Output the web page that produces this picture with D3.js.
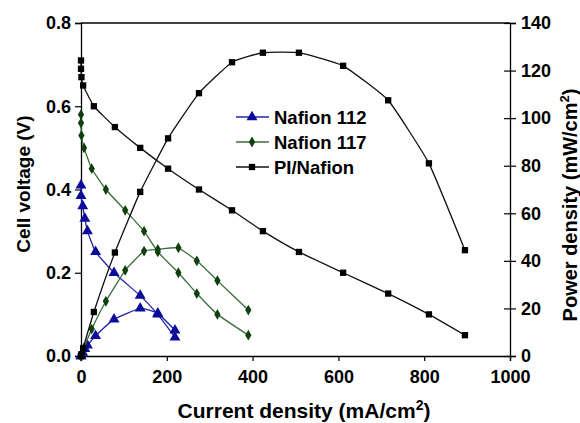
<!DOCTYPE html>
<html>
<head>
<meta charset="utf-8">
<script src="https://cdn.jsdelivr.net/npm/d3@7"></script>
<style>
  body { margin: 0; background: #fff; }
  text { font-family: "Liberation Sans", Arial, sans-serif; font-weight: bold; }
</style>
</head>
<body>
<svg id="chart" width="580" height="423"></svg>
<script>
// current density (mA/cm2), cell voltage (V), power density (mW/cm2)
var n112I = [0, 0, 4, 9, 15, 34, 77, 138, 179, 219];
var n112V = [0.41, 0.385, 0.36, 0.33, 0.30, 0.25, 0.20, 0.145, 0.10, 0.045];
var n112P = [0, 0, 1.4, 3, 4.5, 8.5, 15.4, 20, 17.9, 10.8];

var n117I = [0, 0, 1, 7, 25, 58, 103, 147, 179, 227, 270, 318, 390];
var n117V = [0.58, 0.56, 0.53, 0.50, 0.45, 0.40, 0.35, 0.30, 0.25, 0.20, 0.15, 0.10, 0.05];
var n117P = [0, 0, 0.5, 3.5, 11.3, 23, 36, 44.1, 44.8, 45.5, 40, 31.7, 19.3];

var piI = [0, 0, 1, 5, 30, 79, 138, 203, 275, 352, 424, 508, 611, 716, 811, 895];
var piV = [0.71, 0.69, 0.67, 0.65, 0.60, 0.55, 0.50, 0.45, 0.40, 0.35, 0.30, 0.25, 0.20, 0.15, 0.10, 0.05];
var piP = [0, 0, 0.7, 3.3, 18.5, 43.5, 69, 91.5, 110.5, 123.5, 127.5, 127.5, 122, 107.5, 81, 44.5];

var xTicks = [0, 200, 400, 600, 800, 1000];
var vTicks = [0, 0.2, 0.4, 0.6, 0.8];
var pTicks = [0, 20, 40, 60, 80, 100, 120, 140];

var series = [
  {name: "Nafion 112", I: n112I, V: n112V, P: n112P, line: "#2424a8", fill: "#0c0c9c", sym: d3.symbolTriangle, size: 52},
  {name: "Nafion 117", I: n117I, V: n117V, P: n117P, line: "#3a6e3a", fill: "#0f3f0f", sym: d3.symbolDiamond, size: 34},
  {name: "PI/Nafion", I: piI, V: piV, P: piP, line: "#111", fill: "#000", sym: d3.symbolSquare, size: 40}
];

var svg = d3.select("#chart");
var L = 81, R = 510, T = 23, B = 356;

var x = d3.scaleLinear().domain([0, 1000]).range([L, R]);
var yV = d3.scaleLinear().domain([0, 0.8]).range([B, T]);
var yP = d3.scaleLinear().domain([0, 140]).range([B, T]);

// top border
svg.append("line").attr("x1", L).attr("x2", R).attr("y1", T).attr("y2", T)
  .attr("stroke", "#000").attr("stroke-width", 1.3);

var gx = svg.append("g").attr("transform", "translate(0," + B + ")")
  .call(d3.axisBottom(x).tickValues(xTicks).tickSize(5).tickPadding(9).tickFormat(d3.format("d")));
var gl = svg.append("g").attr("transform", "translate(" + L + ",0)")
  .call(d3.axisLeft(yV).tickValues(vTicks).tickSize(6).tickPadding(4).tickFormat(d3.format(".1f")));
var gr = svg.append("g").attr("transform", "translate(" + R + ",0)")
  .call(d3.axisRight(yP).tickValues(pTicks).tickSize(6).tickPadding(5).tickFormat(d3.format("d")));
gr.selectAll(".tick line").attr("x1", -6);

[gx, gl, gr].forEach(function(g){
  g.select(".domain").attr("stroke", "#000").attr("stroke-width", 1.3);
  g.selectAll(".tick line").attr("stroke", "#000").attr("stroke-width", 1.2);
  g.selectAll("text").attr("font-size", 18).attr("fill", "#000")
    .attr("font-family", "Liberation Sans, Arial, sans-serif").attr("font-weight", "bold");
});

var line = d3.line().curve(d3.curveCardinal.tension(0.6));

series.forEach(function(s){
  var ptsV = s.I.map(function(d, i){ return [x(d), yV(s.V[i])]; });
  var ptsP = s.I.map(function(d, i){ return [x(d), yP(s.P[i])]; });
  [ptsV, ptsP].forEach(function(pts){
    svg.append("path").attr("d", line(pts)).attr("fill", "none")
      .attr("stroke", s.line).attr("stroke-width", 1.3);
    svg.selectAll(null).data(pts).enter().append("path")
      .attr("transform", function(p){ return "translate(" + p[0] + "," + p[1] + ")"; })
      .attr("d", d3.symbol().type(s.sym).size(s.size))
      .attr("fill", s.fill);
  });
});

// legend
var lg = svg.append("g");
series.forEach(function(s, i){
  var yy = 117 + i * 25;
  lg.append("line").attr("x1", 236).attr("x2", 269).attr("y1", yy).attr("y2", yy)
    .attr("stroke", s.line).attr("stroke-width", 1.3);
  lg.append("path").attr("transform", "translate(252," + yy + ")")
    .attr("d", d3.symbol().type(s.sym).size(s.size)).attr("fill", s.fill);
  lg.append("text").attr("x", 274).attr("y", yy + 6.5).attr("font-size", 18.5).text(s.name);
});

// axis titles
var xt = svg.append("text").attr("x", 304).attr("y", 418).attr("text-anchor", "middle")
  .attr("font-size", 21);
xt.append("tspan").text("Current density (mA/cm");
xt.append("tspan").attr("dy", -8).attr("font-size", 14).text("2");
xt.append("tspan").attr("dy", 8).text(")");

svg.append("text").attr("transform", "translate(30,184) rotate(-90)")
  .attr("text-anchor", "middle").attr("font-size", 19).text("Cell voltage (V)");

var rt = svg.append("text").attr("transform", "translate(577,205) rotate(-90)")
  .attr("text-anchor", "middle").attr("font-size", 20);
rt.append("tspan").text("Power density (mW/cm");
rt.append("tspan").attr("dy", -8).attr("font-size", 13).text("2");
rt.append("tspan").attr("dy", 8).text(")");
</script>
</body>
</html>
